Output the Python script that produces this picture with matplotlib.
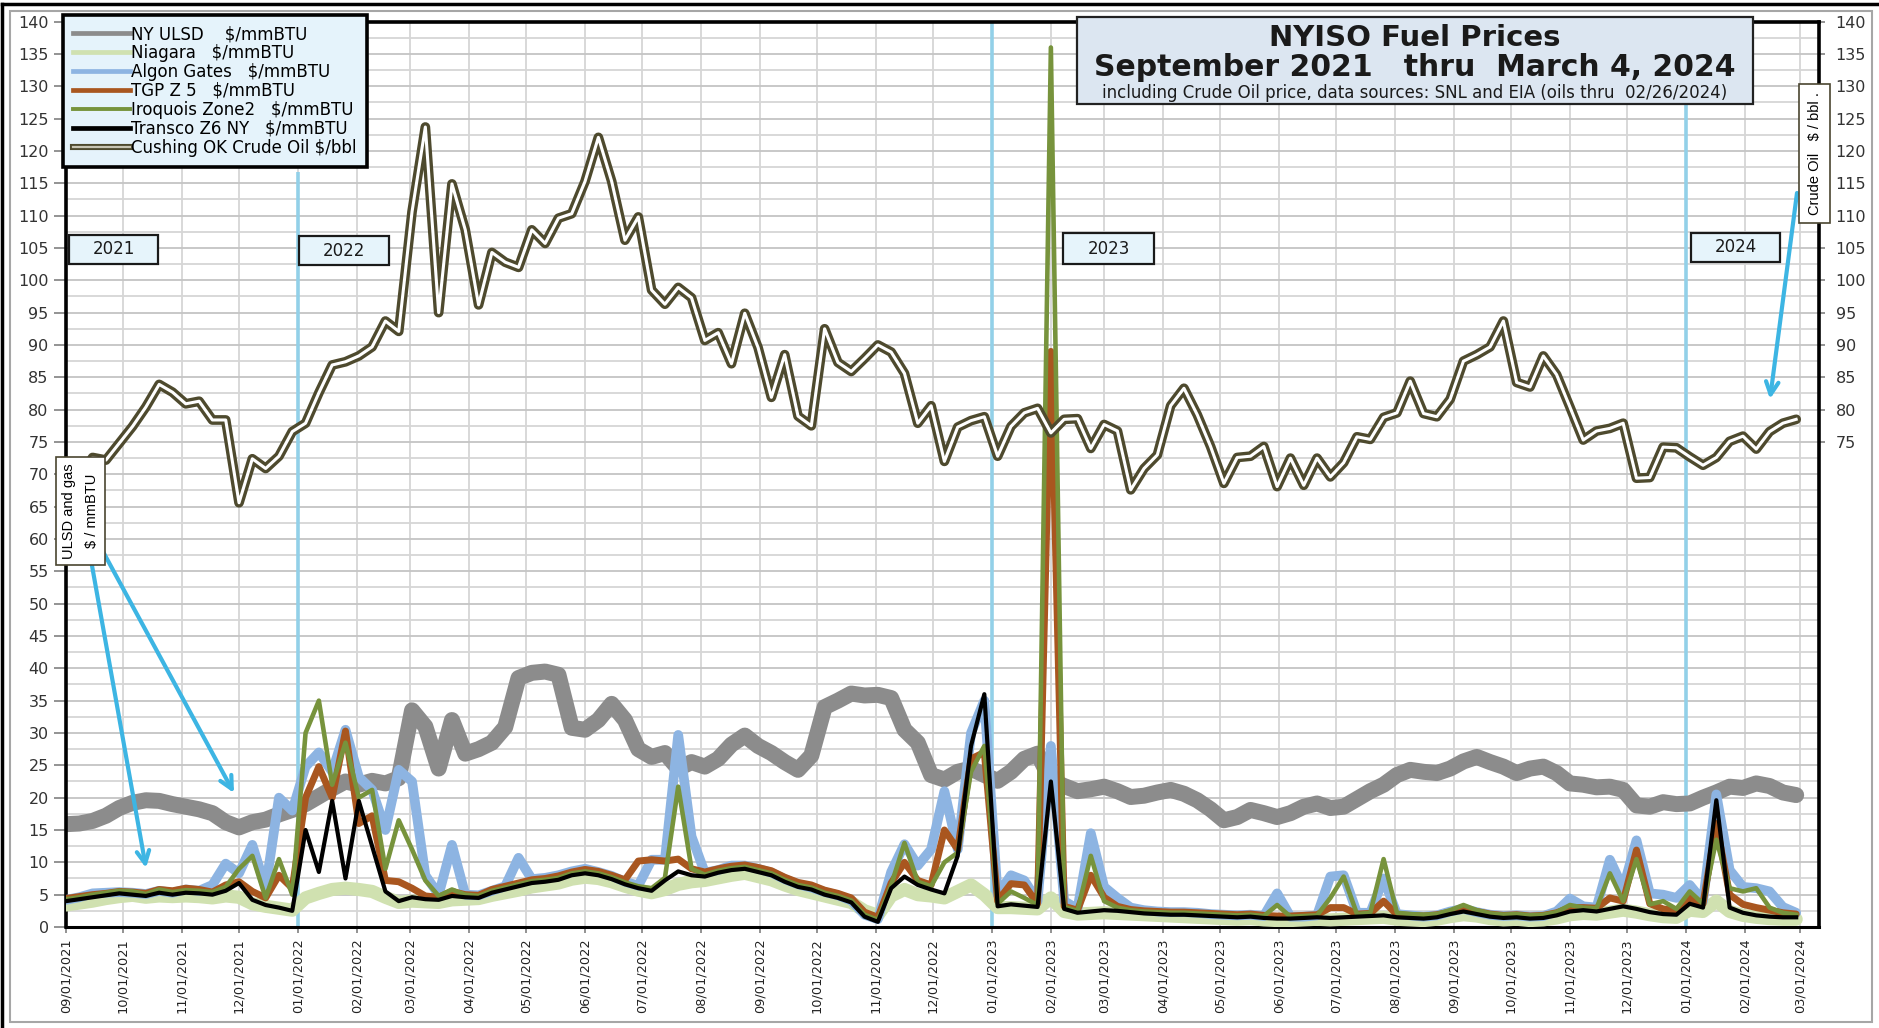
import matplotlib
matplotlib.use("Agg")
import matplotlib.pyplot as plt
from matplotlib.lines import Line2D
from matplotlib.patches import Rectangle
from matplotlib.legend_handler import HandlerTuple
from matplotlib.ticker import MultipleLocator
import pandas as pd

W, H = 1879, 1028

# weekly samples (Wednesdays), Sep 2021 - Feb 2024
dates = pd.date_range("2021-09-01", periods=131, freq="7D")

ulsd = [15.9, 16.0, 16.4, 17.2, 18.4, 19.2, 19.6, 19.5, 19.0, 18.6, 18.2, 17.6, 16.2, 15.4, 16.2, 16.6, 17.4, 18.1,
        19.0, 20.2, 21.4, 22.5, 22.0, 22.6, 22.2, 23.0, 33.5, 31.0, 24.5, 32.0, 26.8, 27.5, 28.5, 30.9, 38.5, 39.3,
        39.5, 39.0, 30.8, 30.5, 32.0, 34.5, 32.0, 27.5, 26.3, 26.9, 24.5, 25.5, 24.8, 26.0, 28.2, 29.6, 28.0, 26.9,
        25.5, 24.3, 26.5, 34.0, 35.0, 36.1, 35.8, 35.9, 35.4, 30.5, 28.5, 23.5, 22.8, 24.0, 24.5, 23.5,
        22.6, 24.0, 26.0, 26.8, 22.7, 21.8, 21.0, 21.3, 21.7, 21.0, 20.1, 20.3, 20.8, 21.2, 20.6, 19.6, 18.2, 16.5,
        17.0, 18.1, 17.6, 17.0, 17.6, 18.6, 19.1, 18.4, 18.6, 19.8, 21.0, 22.0, 23.5, 24.3, 24.0, 23.8, 24.5, 25.6,
        26.3, 25.5, 24.8, 23.8, 24.5, 24.8, 23.8, 22.2, 22.0, 21.6, 21.7, 21.2, 18.8, 18.6, 19.3, 19.0,
        19.1, 20.0, 20.8, 21.7, 21.5, 22.2, 21.8, 20.8, 20.4]

niagara = [3.4, 3.7, 4.0, 4.4, 4.7, 4.9, 4.6, 4.8, 4.7, 4.8, 4.7, 4.5, 4.8, 4.6, 3.6, 3.2, 2.9, 2.6,
           4.5, 5.2, 5.8, 6.0, 5.8, 5.5, 4.6, 3.8, 4.0, 3.9, 3.8, 4.2, 4.3, 4.4, 4.9, 5.3, 5.7, 6.2,
           6.5, 6.8, 7.4, 7.7, 7.5, 7.0, 6.3, 5.7, 5.3, 5.8, 6.6, 7.0, 7.2, 7.6, 8.0, 8.3, 7.8, 7.3,
           6.5, 5.8, 5.3, 4.8, 4.3, 3.8, 2.5, 1.8, 4.8, 5.8, 5.0, 4.8, 4.5, 5.5, 6.5, 5.0,
           3.0, 3.0, 2.9, 2.8, 4.5, 2.4, 2.0, 2.1, 2.2, 2.1, 2.0, 1.9, 1.8, 1.7, 1.6, 1.5, 1.4, 1.3,
           1.2, 1.3, 1.1, 1.0, 1.0, 1.1, 1.2, 1.1, 1.2, 1.3, 1.4, 1.5, 1.2, 1.1, 1.0, 1.2, 1.6, 1.9,
           1.7, 1.3, 1.1, 1.2, 1.0, 1.1, 1.4, 1.9, 2.1, 2.0, 2.3, 2.6, 2.3, 1.9, 1.6, 1.5,
           2.6, 2.4, 4.0, 2.4, 1.8, 1.5, 1.3, 1.2, 1.2]

algon = [4.2, 4.6, 5.2, 5.3, 5.4, 5.3, 5.1, 5.6, 5.3, 5.8, 5.6, 6.5, 9.8, 8.3, 12.7, 6.0, 20.0, 18.0,
         24.8, 27.0, 24.0, 30.5, 23.2, 21.2, 15.0, 24.3, 22.5, 8.0, 5.0, 12.7, 5.0, 4.9, 5.6, 6.3, 10.7, 7.4,
         7.6, 8.0, 8.6, 9.0, 8.5, 7.9, 7.0, 6.4, 10.4, 10.4, 29.7, 14.0, 8.4, 8.8, 9.5, 9.5, 9.0, 8.4,
         7.4, 6.6, 6.1, 5.4, 4.9, 4.1, 1.9, 1.2, 8.5, 12.8, 9.5, 12.0, 21.0, 12.0, 30.0, 35.0,
         5.0, 8.0, 7.2, 4.0, 28.0, 4.0, 2.8, 14.5, 6.2, 4.5, 3.0, 2.6, 2.4, 2.3, 2.3, 2.2, 2.0, 1.9,
         1.8, 1.9, 1.7, 5.2, 1.6, 1.6, 1.8, 7.8, 8.0, 2.2, 2.2, 7.5, 2.0, 1.8, 1.6, 1.8, 2.4, 2.8,
         2.3, 1.9, 1.7, 1.8, 1.6, 1.7, 2.4, 4.4, 3.2, 3.0, 10.4, 6.0, 13.4, 5.2, 5.0, 4.5,
         6.5, 4.0, 20.5, 8.8, 6.2, 6.0, 5.5, 3.1, 2.2]

tgp = [4.4, 4.7, 5.0, 5.2, 5.5, 5.4, 5.2, 5.8, 5.6, 6.0, 5.8, 5.4, 6.5, 7.0, 5.5, 4.5, 8.0, 6.0,
       20.0, 24.8, 20.0, 30.3, 16.0, 17.2, 7.2, 7.0, 6.0, 4.8, 4.6, 5.5, 5.0, 4.9, 5.8, 6.3, 6.8, 7.3,
       7.5, 7.9, 8.5, 8.9, 8.6, 8.0, 7.3, 10.2, 10.4, 10.2, 10.5, 9.0, 8.5, 9.0, 9.4, 9.6, 9.2, 8.7,
       7.7, 6.9, 6.5, 5.7, 5.2, 4.5, 2.3, 1.5, 6.8, 10.0, 7.2, 6.5, 15.0, 12.0, 26.0, 27.0,
       4.0, 6.7, 6.5, 3.6, 89.0, 3.2, 2.6, 8.0, 4.6, 3.2, 2.7, 2.5, 2.4, 2.3, 2.3, 2.2, 2.1, 2.0,
       1.9, 2.0, 1.8, 1.7, 1.7, 1.8, 1.9, 3.0, 3.0, 2.0, 2.1, 4.0, 1.9, 1.8, 1.7, 1.9, 2.3, 2.8,
       2.4, 2.0, 1.8, 1.9, 1.7, 1.8, 2.2, 3.0, 3.0, 2.9, 4.5, 4.0, 11.9, 3.6, 2.8, 2.5,
       4.5, 3.6, 16.0, 5.0, 3.5, 3.0, 2.6, 2.2, 2.0]

iroquois = [4.3, 4.6, 5.0, 5.3, 5.6, 5.5, 5.1, 5.8, 5.4, 5.7, 5.6, 5.4, 6.2, 9.0, 11.0, 4.5, 10.5, 5.0,
            30.0, 35.0, 22.0, 28.5, 20.0, 21.2, 9.0, 16.5, 12.0, 7.2, 4.8, 5.8, 5.0, 4.8, 5.6, 6.1, 6.6, 7.1,
            7.3, 7.6, 8.3, 8.6, 8.3, 7.7, 6.9, 6.3, 6.0, 7.6, 21.7, 9.0, 8.1, 8.7, 9.1, 9.3, 8.8, 8.3,
            7.3, 6.5, 6.1, 5.3, 4.8, 4.1, 1.9, 1.1, 6.5, 13.0, 7.0, 6.3, 10.0, 11.5, 24.0, 28.0,
            3.6, 5.5, 4.5, 3.4, 136.0, 3.1, 2.5, 11.0, 4.0, 3.0, 2.6, 2.4, 2.3, 2.2, 2.2, 2.1, 2.0, 1.9,
            1.8, 1.9, 1.7, 3.4, 1.6, 1.7, 1.8, 4.5, 7.8, 2.0, 2.2, 10.5, 2.2, 2.0, 1.9, 2.0, 2.6, 3.4,
            2.6, 2.1, 1.9, 2.0, 1.8, 1.9, 2.3, 3.4, 3.0, 2.9, 8.3, 4.0, 10.5, 3.5, 4.0, 2.8,
            5.5, 3.6, 13.5, 6.0, 5.5, 6.0, 3.0, 2.2, 1.9]

transco = [4.0, 4.3, 4.6, 4.9, 5.2, 5.0, 4.8, 5.3, 5.0, 5.3, 5.2, 5.0, 5.6, 6.8, 4.2, 3.4, 3.0, 2.5,
           15.0, 8.5, 19.5, 7.5, 19.5, 12.5, 5.5, 4.0, 4.6, 4.3, 4.2, 4.8, 4.6, 4.5, 5.3, 5.8, 6.3, 6.8,
           7.0, 7.3, 8.0, 8.3, 8.0, 7.4, 6.6, 6.0, 5.6, 7.2, 8.6, 8.0, 7.8, 8.4, 8.8, 9.0, 8.5, 8.0,
           7.0, 6.2, 5.8, 5.0, 4.5, 3.8, 1.6, 0.8, 6.0, 7.8, 6.5, 5.8, 5.2, 11.0, 28.0, 36.0,
           3.2, 3.5, 3.3, 3.1, 22.5, 2.8, 2.2, 2.4, 2.6, 2.5, 2.3, 2.1, 2.0, 1.9, 1.9, 1.8, 1.7, 1.6,
           1.5, 1.6, 1.4, 1.3, 1.3, 1.4, 1.5, 1.4, 1.5, 1.6, 1.7, 1.8, 1.5, 1.4, 1.3, 1.5, 2.0, 2.4,
           2.0, 1.6, 1.4, 1.5, 1.3, 1.4, 1.8, 2.4, 2.6, 2.4, 2.8, 3.2, 2.8, 2.3, 2.0, 1.9,
           3.6, 3.0, 19.6, 3.0, 2.2, 1.8, 1.6, 1.5, 1.5]

crude = [68.6, 69.3, 72.6, 72.2, 74.8, 77.4, 80.4, 83.9, 82.7, 80.9, 81.3, 78.4, 78.4, 65.6, 72.4, 70.9, 72.8, 76.6,
         77.9, 82.6, 86.9, 87.4, 88.3, 89.7, 93.7, 92.1, 110.6, 123.7, 95.0, 114.9, 107.8, 96.2, 104.3, 102.8, 102.0,
         107.8, 105.7, 109.6, 110.3, 115.3, 122.1, 115.3, 106.2, 109.8, 98.5, 96.3, 98.9, 97.3, 90.7, 91.9, 87.1,
         94.9, 89.6, 81.9, 88.5, 79.0, 77.5, 92.5, 87.3, 85.9, 87.9, 90.0, 88.9, 85.6, 77.9, 80.6, 72.0, 77.3, 78.3, 78.9,
         72.8, 77.4, 79.5, 80.2, 76.4, 78.5, 78.6, 74.0, 77.7, 76.7, 67.6, 70.9, 73.0, 80.6, 83.3, 79.2, 74.3, 68.6,
         72.6, 72.8, 74.3, 68.1, 72.5, 68.3, 72.5, 69.6, 71.8, 75.8, 75.4, 78.8, 79.5, 84.4, 79.4, 78.9, 81.6, 87.5,
         88.5, 89.7, 93.7, 84.2, 83.5, 88.3, 85.4, 80.4, 75.3, 76.7, 77.1, 77.9, 69.4, 69.5, 74.2, 74.1,
         72.7, 71.4, 72.6, 75.1, 75.9, 73.9, 76.6, 77.9, 78.5]

series_names = ["NY ULSD    $/mmBTU", "Niagara   $/mmBTU", "Algon Gates   $/mmBTU", "TGP Z 5   $/mmBTU",
                "Iroquois Zone2   $/mmBTU", "Transco Z6 NY   $/mmBTU", "Cushing OK Crude Oil $/bbl"]
year_marks = ["2022-01-01", "2023-01-01", "2024-01-01"]

c_ulsd, c_niag, c_algon, c_tgp, c_iroq, c_transco = "#8c8c8c", "#d0e1b0", "#8db4e2", "#a9561f", "#77933c", "#000000"
c_crude = "#4e4a2e"
c_year = "#92d0e8"
c_arrow = "#3db5e3"

plt.rcParams["font.family"] = ["DejaVu Sans"]

def fx(px):
    return px / W

def fy(py):
    return 1 - py / H

fig = plt.figure(figsize=(W / 100, H / 100), dpi=100)
fig.patch.set_facecolor("white")
ax = fig.add_axes([fx(66), fy(927), (1819 - 66) / W, (927 - 21.6) / H])

# series
ax.plot(dates, ulsd, color=c_ulsd, lw=11.5, solid_capstyle="round", solid_joinstyle="round", zorder=2)
ax.plot(dates, niagara, color=c_niag, lw=9.5, solid_capstyle="round", solid_joinstyle="round", zorder=3)
ax.plot(dates, algon, color=c_algon, lw=7, solid_capstyle="round", solid_joinstyle="round", zorder=4)
ax.plot(dates, tgp, color=c_tgp, lw=5, solid_capstyle="round", solid_joinstyle="round", zorder=5)
ax.plot(dates, iroquois, color=c_iroq, lw=3.3, solid_joinstyle="round", zorder=6)
ax.plot(dates, transco, color=c_transco, lw=3.0, solid_joinstyle="round", zorder=7)
ax.plot(dates, crude, color=c_crude, lw=7, solid_joinstyle="round", solid_capstyle="round", zorder=8)
ax.plot(dates, crude, color="white", lw=2.2, solid_joinstyle="round", zorder=9)

# year separators
ax.vlines(pd.Timestamp(year_marks[0]), 0, 116.7, color=c_year, lw=2.6, zorder=1.5)
ax.vlines(pd.Timestamp(year_marks[1]), 0, 140, color=c_year, lw=2.6, zorder=1.5)
ax.vlines(pd.Timestamp(year_marks[2]), 0, 140, color=c_year, lw=2.6, zorder=1.5)

# axes
ax.set_xlim(pd.Timestamp("2021-09-01"), pd.Timestamp("2024-03-11"))
ax.set_ylim(0, 140)
months = pd.date_range("2021-09-01", "2024-03-01", freq="MS")
ax.set_xticks(months)
ax.set_xticklabels([d.strftime("%m/%d/%Y") for d in months], rotation=90, fontsize=9.3, color="#222222")
ax.set_yticks(range(0, 141, 5))
ax.yaxis.set_minor_locator(MultipleLocator(2.5))
ax.tick_params(axis="y", which="major", length=8.5, width=1.2, color="#808080", pad=4, labelsize=11.5,
               labelcolor="#333333")
ax.tick_params(axis="y", which="minor", length=0)
ax.tick_params(axis="x", length=4, width=1.2, color="#808080", pad=4)
ax.set_axisbelow(True)
ax.grid(True, which="major", axis="y", color="#c4c4c4", lw=1.3)
ax.grid(True, which="minor", axis="y", color="#d6d6d6", lw=1.3)
ax.grid(True, which="major", axis="x", color="#d6d6d6", lw=1.3)
for side in ["left", "top", "right"]:
    ax.spines[side].set_linewidth(2.6)
    ax.spines[side].set_color("black")
ax.spines["bottom"].set_linewidth(2.2)

sec = ax.secondary_yaxis("right")
sec.set_yticks(range(75, 141, 5))
sec.tick_params(length=4, width=1.2, color="#808080", pad=8, labelsize=11.5, labelcolor="#333333")
sec.spines["right"].set_visible(False)

# legend
handles = [Line2D([], [], color=c_ulsd, lw=3.4), Line2D([], [], color=c_niag, lw=3.4),
           Line2D([], [], color=c_algon, lw=3.4), Line2D([], [], color=c_tgp, lw=3.4),
           Line2D([], [], color=c_iroq, lw=2.8), Line2D([], [], color=c_transco, lw=3.4),
           (Line2D([], [], color=c_crude, lw=4.4), Line2D([], [], color="#c9c6b4", lw=1.6))]
leg = ax.legend(handles, series_names, loc="upper left", bbox_to_anchor=(fx(63), fy(15)),
                bbox_transform=fig.transFigure, handler_map={tuple: HandlerTuple(ndivide=1)},
                fontsize=12, handlelength=3.4, handletextpad=0.08, labelspacing=0.06, borderpad=0.6,
                borderaxespad=0, fancybox=False, framealpha=1, facecolor="#e5f3fb", edgecolor="black")
leg.get_frame().set_linewidth(2.6)
leg.set_zorder(20)

# title box
fig.add_artist(Rectangle((fx(1077), fy(104)), (1753 - 1077) / W, (104 - 17) / H, transform=fig.transFigure,
                         facecolor="#dce6f1", edgecolor="#222222", lw=1.6, zorder=20))
fig.text(fx(1415), fy(38), "NYISO Fuel Prices", ha="center", va="center", fontsize=21, fontweight="bold",
         color="#1a1a1a", zorder=21)
fig.text(fx(1415), fy(68), "September 2021   thru  March 4, 2024", ha="center", va="center", fontsize=21.5,
         fontweight="bold", color="#1a1a1a", zorder=21)
fig.text(fx(1415), fy(93), "including Crude Oil price, data sources: SNL and EIA (oils thru  02/26/2024)",
         ha="center", va="center", fontsize=12, color="#1a1a1a", zorder=21)

# year boxes
for label, (x0, y0, x1, y1) in zip(["2021", "2022", "2023", "2024"],
                                   [(69, 235, 158, 264), (299, 236, 389, 265),
                                    (1063, 233, 1154, 264), (1691, 233, 1780, 262)]):
    fig.add_artist(Rectangle((fx(x0), fy(y1)), (x1 - x0) / W, (y1 - y0) / H, transform=fig.transFigure,
                             facecolor="#e6f4fb", edgecolor="#1a1a1a", lw=1.6, zorder=15))
    fig.text(fx((x0 + x1) / 2), fy((y0 + y1) / 2), label, ha="center", va="center", fontsize=12,
             color="#1a1a1a", zorder=16)

# axis notes
fig.text(fx(80.5), fy(511), "ULSD and gas\n$ / mmBTU", rotation=90, ha="center", va="center", fontsize=10.5,
         family=["Liberation Sans"], linespacing=1.75, zorder=18,
         bbox=dict(boxstyle="square,pad=0.45", fc="white", ec="#4a4530", lw=1.2))
fig.text(fx(1814.5), fy(153.5), "Crude Oil   $ / bbl .", rotation=90, ha="center", va="center", fontsize=10.5,
         family=["Liberation Sans"], zorder=18,
         bbox=dict(boxstyle="square,pad=0.55", fc="white", ec="#4a4530", lw=1.2))

arrow_kw = dict(arrowstyle="->,head_length=0.9,head_width=0.45", color=c_arrow, lw=3, shrinkA=0, shrinkB=0)
ax.annotate("", xy=(fx(146), fy(868)), xytext=(fx(86), fy(532)), xycoords="figure fraction",
            textcoords="figure fraction", arrowprops=arrow_kw, zorder=17)
ax.annotate("", xy=(fx(234), fy(793)), xytext=(fx(94), fy(535)), xycoords="figure fraction",
            textcoords="figure fraction", arrowprops=arrow_kw, zorder=17)
ax.annotate("", xy=(fx(1770), fy(399)), xytext=(fx(1797), fy(193)), xycoords="figure fraction",
            textcoords="figure fraction", arrowprops=arrow_kw, zorder=17)

# chart frame
fig.add_artist(Rectangle((fx(10), fy(1022)), (1872 - 10) / W, (1022 - 11) / H, transform=fig.transFigure,
                         facecolor="none", edgecolor="#a6a6a6", lw=1.5, zorder=0))
fig.add_artist(Line2D([fx(2), fx(1879)], [fy(4), fy(4)], color="black", lw=2.5))
fig.add_artist(Line2D([fx(2), fx(2)], [fy(4), fy(1028)], color="black", lw=2.5))

fig.savefig("out.png", dpi=100)
